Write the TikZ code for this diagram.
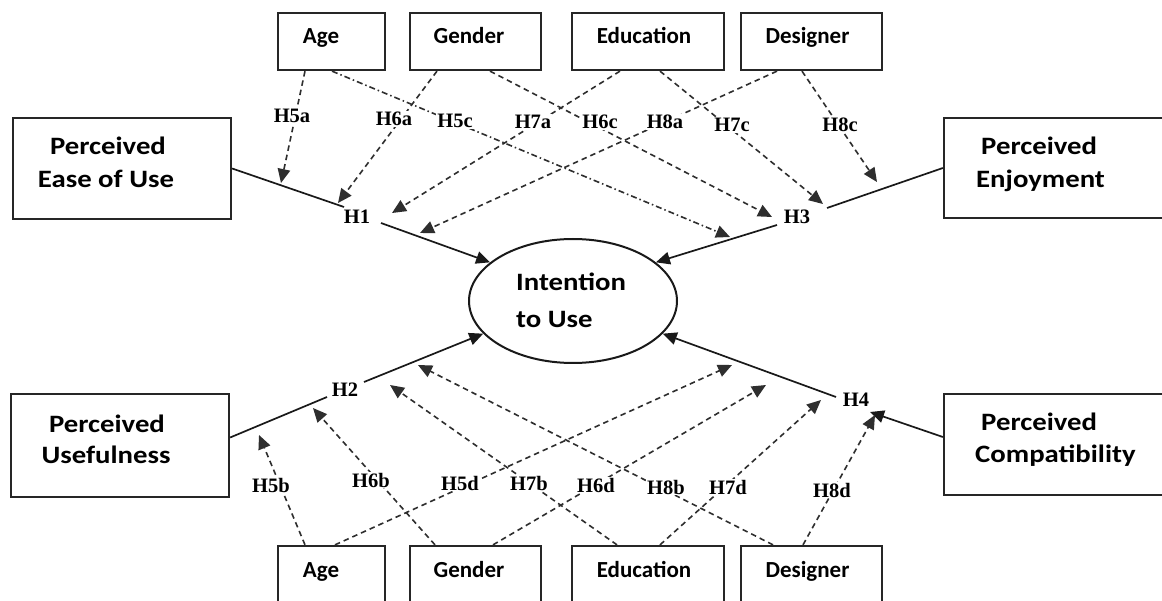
\documentclass[tikz,border=0pt]{standalone}
\usepackage{fontspec}
\usetikzlibrary{arrows.meta,shapes.geometric}
\newfontfamily\labfont{Carlito}[FakeStretch=1.15]
\newfontfamily\smallfont{Carlito}
\newfontfamily\hfont{Liberation Serif}
\tikzset{
  box/.style={draw=black!85, line width=2.3pt, inner sep=0pt},
  bigtxt/.style={font=\labfont\bfseries\fontsize{25}{30}\selectfont, inner sep=0pt},
  toptxt/.style={font=\smallfont\bfseries\fontsize{23}{27}\selectfont, inner sep=0pt, anchor=base},
  hyp/.style={font=\hfont\bfseries\fontsize{20.5}{22}\selectfont, inner sep=1pt, fill=white},
  main/.style={line width=1.7pt, draw=black!90},
  mod/.style={line width=1.6pt, draw=black!82, dash pattern=on 5.5pt off 4pt},
  moddot/.style={line width=1.6pt, draw=black!82, dash pattern=on 6pt off 3pt on 1.5pt off 3pt},
  tip/.style={-{Triangle[length=14pt,width=12.5pt]}},
}
\begin{document}
\begin{tikzpicture}[x=1pt,y=-1pt]
\useasboundingbox (0,0) rectangle (1162,601);
\fill[white] (0,0) rectangle (1162,601);
\clip (0,0) rectangle (1162,601);

% top moderator boxes
\node[box, minimum width=107, minimum height=57] (ageT) at (331.5,41.5) {};
\node[box, minimum width=131, minimum height=57] (genT) at (475.5,41.5) {};
\node[box, minimum width=152, minimum height=57] (eduT) at (648,41.5) {};
\node[box, minimum width=141, minimum height=57] (desT) at (811.5,41.5) {};
% bottom moderator boxes
\node[box, minimum width=107, minimum height=57] (ageB) at (331.5,574.5) {};
\node[box, minimum width=131, minimum height=57] (genB) at (475.5,574.5) {};
\node[box, minimum width=152, minimum height=57] (eduB) at (648,574.5) {};
\node[box, minimum width=141, minimum height=57] (desB) at (811.5,574.5) {};

\node[toptxt] (ageTt) at (321,44) {Age};
\node[toptxt] (genTt) at (469,44) {Gender};
\node[toptxt] (eduTt) at (644,44) {Education};
\node[toptxt] (desTt) at (807.5,44) {Designer};
\node[toptxt] (ageBt) at (321,577) {Age};
\node[toptxt] (genBt) at (469,577) {Gender};
\node[toptxt] (eduBt) at (644,577) {Education};
\node[toptxt] (desBt) at (807.5,577) {Designer};

% construct boxes
\node[box, minimum width=218, minimum height=101] (peou) at (122,168.5) {};
\node[box, minimum width=218, minimum height=103] (pu) at (120,445.5) {};
\node[box, minimum width=222, minimum height=100] (pe) at (1055,168) {};
\node[box, minimum width=222, minimum height=101] (pc) at (1055,444.5) {};

\node[bigtxt, anchor=base] (peouA) at (108,155) {Perceived};
\node[bigtxt, anchor=base] (peouB) at (106,188) {Ease of Use};
\node[bigtxt, anchor=base] (puA) at (107,432) {Perceived};
\node[bigtxt, anchor=base] (puB) at (106,463) {Usefulness};
\node[bigtxt, anchor=base west] (peA) at (981,155) {Perceived};
\node[bigtxt, anchor=base west] (peB) at (976,188) {Enjoyment};
\node[bigtxt, anchor=base west] (pcA) at (981,431) {Perceived};
\node[bigtxt, anchor=base west] (pcB) at (975,462) {Compatibility};

% outcome
\node[draw=black!90, ellipse, line width=2pt, minimum width=208, minimum height=124, inner sep=0pt] (ell) at (573,301) {};
\node[bigtxt, anchor=base west] (int1) at (516,291) {Intention};
\node[bigtxt, anchor=base west] (int2) at (516,328) {to Use};

% junction coordinates
\coordinate (j1) at (344,207);
\coordinate (s1) at (381,223);
\coordinate (j3) at (827,208);
\coordinate (s3) at (777,225);
\coordinate (j2) at (327,397);
\coordinate (s2) at (364,382);
\coordinate (j4) at (870,412);
\coordinate (s4) at (836,397);
% moderator arrow tips
\coordinate (a5a) at (281,183);
\coordinate (a6a) at (338,203);
\coordinate (a7a) at (392,213);
\coordinate (a8a) at (420,233);
\coordinate (a5c) at (730,237);
\coordinate (a6c) at (772,217);
\coordinate (a7c) at (823,204);
\coordinate (a8c) at (877,182);
\coordinate (b5b) at (259,435);
\coordinate (b6b) at (313,408);
\coordinate (b7b) at (390,385);
\coordinate (b8b) at (418,365);
\coordinate (b5d) at (732,365);
\coordinate (b6d) at (766,385);
\coordinate (b7d) at (821,400);
\coordinate (b8d) at (875,415);

% main paths
\draw[main] (peou.east) -- (j1);
\draw[main, tip] (s1) -- (ell.155);
\draw[main] (pe.west) -- (j3);
\draw[main, tip] (s3) -- (ell.25);
\draw[main] ([yshift=8]pu.east) -- (j2);
\draw[main, tip] (s2) -- (ell.200);
\draw[main, tip] ([yshift=7.5]pc.west) -- (j4);
\draw[main, tip] (s4) -- (ell.340);

% moderator paths (top)
\draw[mod, tip] ([xshift=-26.5]ageT.south) -- (a5a);
\draw[moddot, tip] ([xshift=0.5]ageT.south) -- (a5c);
\draw[mod, tip] ([xshift=-38.5]genT.south) -- (a6a);
\draw[mod, tip] ([xshift=14.5]genT.south) -- (a6c);
\draw[mod, tip] ([xshift=-28]eduT.south) -- (a7a);
\draw[mod, tip] ([xshift=12]eduT.south) -- (a7c);
\draw[mod, tip] ([xshift=-34.5]desT.south) -- (a8a);
\draw[mod, tip] ([xshift=-9.5]desT.south) -- (a8c);
% moderator paths (bottom)
\draw[mod, tip] ([xshift=-26.5]ageB.north) -- (b5b);
\draw[mod, tip] ([xshift=3.5]ageB.north) -- (b5d);
\draw[mod, tip] ([xshift=-40.5]genB.north) -- (b6b);
\draw[mod, tip] ([xshift=17.5]genB.north) -- (b6d);
\draw[mod, tip] ([xshift=-31]eduB.north) -- (b7b);
\draw[mod, tip] ([xshift=12]eduB.north) -- (b7d);
\draw[mod, tip] ([xshift=-38.5]desB.north) -- (b8b);
\draw[mod, tip] ([xshift=-8.5]desB.north) -- (b8d);

% hypothesis labels
\node[hyp] (h1) at (357,217) {H1};
\node[hyp] (h2) at (345,390) {H2};
\node[hyp] (h3) at (797,217) {H3};
\node[hyp] (h4) at (856,400) {H4};
\node[hyp] (h5a) at (292,116) {H5a};
\node[hyp] (h6a) at (394,119) {H6a};
\node[hyp] (h5c) at (455,121) {H5c};
\node[hyp] (h7a) at (533,122) {H7a};
\node[hyp] (h6c) at (600,122) {H6c};
\node[hyp] (h8a) at (665,122) {H8a};
\node[hyp] (h7c) at (732,125) {H7c};
\node[hyp] (h8c) at (840,125) {H8c};
\node[hyp] (h5b) at (271,485) {H5b};
\node[hyp] (h6b) at (371,480) {H6b};
\node[hyp] (h5d) at (460,483) {H5d};
\node[hyp] (h7b) at (529,483) {H7b};
\node[hyp] (h6d) at (596,485) {H6d};
\node[hyp] (h8b) at (666,487) {H8b};
\node[hyp] (h7d) at (728,487) {H7d};
\node[hyp] (h8d) at (832,490) {H8d};
\end{tikzpicture}
\end{document}
